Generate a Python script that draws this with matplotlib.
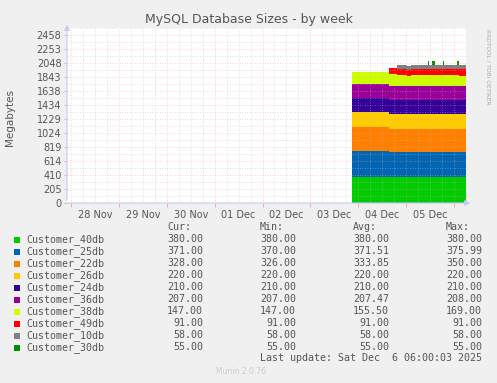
import datetime as dt

import matplotlib
matplotlib.use('Agg')
import matplotlib.pyplot as plt
import matplotlib.dates as mdates
import numpy as np
from matplotlib.patches import Rectangle
from matplotlib.ticker import FixedLocator, FuncFormatter

# segment edges, hours after 2025-12-04 00:00 (last value = end of data)
seg_hours = [-3, 15.5, 19.5, 24.5, 26.5, 35, 35.5, 37, 38.5, 42.5, 43, 49.5, 50.5, 54]

nan = float('nan')
names = ['Customer_40db', 'Customer_25db', 'Customer_22db', 'Customer_26db', 'Customer_24db',
         'Customer_36db', 'Customer_38db', 'Customer_49db', 'Customer_10db', 'Customer_30db']
colors = ['#00CC00', '#0066B3', '#FF8000', '#FFCC00', '#330099',
          '#990099', '#CCFF00', '#FF0000', '#808080', '#008F00']

db40 = [380] * 13
db25 = [376] + [371] * 12
db22 = [350, 328, 328, 326, 328, 328, 328, 328, 328, 328, 328, 328, 328]
db26 = [220] * 13
db24 = [210] * 13
db36 = [208] + [207] * 12
db38 = [169, 169, 150, 147, 150, 150, 150, 150, 150, 150, 150, 150, 147]
db49 = [nan] + [91] * 12
db10 = [nan, nan] + [58] * 11
db30 = [nan, nan, nan, nan, nan, 55, nan, 55, nan, 55, nan, 55, nan]
series = [db40, db25, db22, db26, db24, db36, db38, db49, db10, db30]

# legend table
cur = ['380.00', '371.00', '328.00', '220.00', '210.00', '207.00', '147.00', '91.00', '58.00', '55.00']
mins = ['380.00', '370.00', '326.00', '220.00', '210.00', '207.00', '147.00', '91.00', '58.00', '55.00']
avgs = ['380.00', '371.51', '333.85', '220.00', '210.00', '207.47', '155.50', '91.00', '58.00', '55.00']
maxs = ['380.00', '375.99', '350.00', '220.00', '210.00', '208.00', '169.00', '91.00', '58.00', '55.00']

day_labels = ['28 Nov', '29 Nov', '30 Nov', '01 Dec', '02 Dec', '03 Dec', '04 Dec', '05 Dec']
ytick_labels = ['0', '205', '410', '614', '819', '1024', '1229', '1434',
                '1638', '1843', '2048', '2253', '2458']

W, H = 497, 383
TXT = '#555555'


def fx(px):
    return px / W


def fy(py):
    return 1 - py / H


fig = plt.figure(figsize=(W / 100, H / 100), dpi=100, facecolor='#F0F0F0')
ax = fig.add_axes([fx(67), fy(203), fx(466) - fx(67), (203 - 28) / H])
ax.set_facecolor('white')

base = dt.datetime(2025, 12, 4)
x = mdates.date2num([base + dt.timedelta(hours=h) for h in seg_hours])

lower = np.zeros(len(x))
for vals, col in zip(series, colors):
    v = np.nan_to_num(np.array(vals + [vals[-1]], dtype=float))
    upper = lower + v
    ax.fill_between(x, lower, upper, step='post', color=col, lw=0, zorder=1)
    lower = upper

t0 = mdates.date2num(base + dt.timedelta(hours=-146))
t1 = mdates.date2num(base + dt.timedelta(hours=54))
ax.set_xlim(t0, t1)
ax.set_ylim(0, 2560)

# x ticks: red at midnight, gray every 6 h, labels at noon
first_day = dt.datetime(2025, 11, 28)
midnights = [mdates.date2num(first_day + dt.timedelta(days=i)) for i in range(9)]
six_h = [mdates.date2num(first_day + dt.timedelta(hours=6 * i)) for i in range(-1, 35)]
six_h = [t for t in six_h if t0 < t < t1 and t not in midnights]
ax.xaxis.set_major_locator(FixedLocator(midnights))
ax.xaxis.set_major_formatter(FuncFormatter(lambda v, p: ''))
noon = {round(mdates.date2num(first_day + dt.timedelta(days=i, hours=12)), 4): lab
        for i, lab in enumerate(day_labels)}
ax.xaxis.set_minor_formatter(FuncFormatter(lambda v, p: noon.get(round(v, 4), '')))
ax.xaxis.set_minor_locator(FixedLocator(sorted(set(six_h) | set(
    mdates.date2num([first_day + dt.timedelta(days=i, hours=12) for i in range(8)])))))

ystep = 204.8
ax.yaxis.set_major_locator(FixedLocator([i * ystep for i in range(13)]))
ax.yaxis.set_minor_locator(FixedLocator([(i + 0.5) * ystep for i in range(13)]))
ax.set_yticklabels(ytick_labels)

ax.tick_params(axis='x', which='major', length=3, color='#FF9999', width=0.6, labelsize=7)
ax.tick_params(axis='x', which='minor', length=0, pad=5, labelsize=7, labelcolor=TXT)
ax.tick_params(axis='y', which='major', length=2, color='#BBBBBB', width=0.6,
               labelsize=7, labelcolor=TXT, pad=2)
ax.tick_params(axis='y', which='minor', length=0)

# rrdtool draws the grid over the areas
ax.set_axisbelow(False)
ax.grid(True, which='major', color='#FF9999', lw=0.6, ls=(0, (1, 2)), alpha=0.6)
ax.grid(True, which='minor', color='#BBBBBB', lw=0.6, ls=(0, (1, 2)), alpha=0.6)
for tick in ax.xaxis.get_minor_ticks():
    if round(tick.get_loc(), 4) in noon:
        tick.gridline.set_visible(False)

for s in ax.spines.values():
    s.set_visible(False)

# axes with arrows
arrow = dict(arrowstyle='-|>,head_length=0.4,head_width=0.2', color='#C8C8F0', lw=0.8)
fig.add_artist(matplotlib.patches.FancyArrowPatch((fx(67), fy(203)), (fx(67), fy(22)),
                                                  transform=fig.transFigure, **arrow,
                                                  mutation_scale=8))
fig.add_artist(matplotlib.patches.FancyArrowPatch((fx(64), fy(203)), (fx(473), fy(203)),
                                                  transform=fig.transFigure, **arrow,
                                                  mutation_scale=8))

fig.text(0.5, fy(19), 'MySQL Database Sizes - by week', ha='center', va='center',
         fontsize=9, color=TXT)
fig.text(fx(10), fy(118), 'Megabytes', rotation=90, ha='center', va='center',
         fontsize=7.5, color=TXT)
fig.text(fx(488), fy(29), 'RRDTOOL / TOBI OETIKER', rotation=270, ha='center', va='top',
         fontsize=4.2, color='#AAAAAA')

mono = dict(family='DejaVu Sans Mono', fontsize=7.2, color=TXT, va='center')
fig.text(fx(167), fy(227.5), 'Cur:', ha='left', **mono)
fig.text(fx(260), fy(227.5), 'Min:', ha='left', **mono)
fig.text(fx(353), fy(227.5), 'Avg:', ha='left', **mono)
fig.text(fx(446), fy(227.5), 'Max:', ha='left', **mono)
for i, name in enumerate(names):
    yy = 239.5 + 12 * i
    fig.add_artist(Rectangle((fx(14), fy(yy + 3)), 6 / W, 6 / H, transform=fig.transFigure,
                             facecolor=colors[i], edgecolor='none'))
    fig.text(fx(26), fy(yy), name, ha='left', **mono)
    fig.text(fx(203), fy(yy), cur[i], ha='right', **mono)
    fig.text(fx(296), fy(yy), mins[i], ha='right', **mono)
    fig.text(fx(389), fy(yy), avgs[i], ha='right', **mono)
    fig.text(fx(482), fy(yy), maxs[i], ha='right', **mono)
fig.text(fx(482), fy(358), 'Last update: Sat Dec  6 06:00:03 2025', ha='right', **mono)
fig.text(fx(241), fy(372), 'Munin 2.0.76', ha='center', va='center', fontsize=5.5,
         color='#CCCCCC')

fig.savefig('out.png', dpi=100, facecolor=fig.get_facecolor())
